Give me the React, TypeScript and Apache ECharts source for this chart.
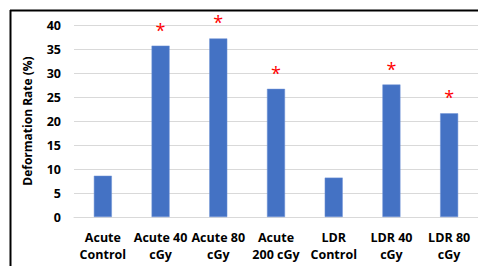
import React, { useEffect, useRef } from "react";
import * as echarts from "echarts";

const categories = [
  "Acute\nControl",
  "Acute 40\ncGy",
  "Acute 80\ncGy",
  "Acute\n200 cGy",
  "LDR\nControl",
  "LDR 40\ncGy",
  "LDR 80\ncGy",
];
const values = [8.6, 35.7, 37.2, 26.7, 8.2, 27.6, 21.6];
const significant = [false, true, true, true, false, true, true];
const yTicks = { min: 0, max: 40, interval: 5 };
const yName = "Deformation Rate (%)";

const FONT = "'Open Sans', 'Liberation Sans', sans-serif";

export default function App() {
  const ref = useRef<HTMLDivElement>(null);
  useEffect(() => {
    if (!ref.current) return;
    const chart = echarts.init(ref.current, undefined, { renderer: "svg" });
    chart.setOption({
      animation: false,
      backgroundColor: "#ffffff",
      grid: { left: 74, right: 0, top: 25, bottom: 49, containLabel: false },
      xAxis: {
        type: "category",
        data: categories,
        axisLine: { show: true, lineStyle: { color: "#d9d9d9", width: 1 } },
        axisTick: { show: false },
        axisLabel: {
          interval: 0,
          color: "#000",
          fontFamily: FONT,
          fontWeight: "bold",
          fontSize: 12.5,
          lineHeight: 17,
          margin: 12,
        },
      },
      yAxis: {
        type: "value",
        min: yTicks.min,
        max: yTicks.max,
        interval: yTicks.interval,
        name: yName,
        nameLocation: "middle",
        nameGap: 41,
        nameTextStyle: {
          color: "#000",
          fontFamily: FONT,
          fontWeight: "bold",
          fontSize: 12,
        },
        axisLine: { show: false },
        axisTick: { show: false },
        axisLabel: {
          color: "#000",
          fontFamily: FONT,
          fontWeight: "bold",
          fontSize: 12.5,
          margin: 13,
        },
        splitLine: { lineStyle: { color: "#d9d9d9", width: 1 } },
      },
      series: [
        {
          type: "bar",
          data: values.map((v, i) => ({
            value: v,
            label: {
              show: significant[i],
              position: "top",
              formatter: "*",
              color: "#ff0000",
              fontFamily: FONT,
              fontSize: 18,
              fontWeight: "normal",
              distance: 7,
            },
          })),
          barWidth: 18,
          itemStyle: { color: "#4472c4", borderColor: "#6f93d6", borderWidth: 0.5 },
        },
      ],
      graphic: [
        {
          type: "line",
          shape: { x1: 10, y1: 10.5, x2: 478, y2: 10.5 },
          style: { stroke: "#000", lineWidth: 2 },
        },
        {
          type: "line",
          shape: { x1: 10.5, y1: 10, x2: 10.5, y2: 266 },
          style: { stroke: "#000", lineWidth: 2 },
        },
      ],
    });
    return () => chart.dispose();
  }, []);
  return (
    <div
      ref={ref}
      style={{ position: "fixed", left: 0, top: 0, width: 478, height: 266 }}
    />
  );
}
